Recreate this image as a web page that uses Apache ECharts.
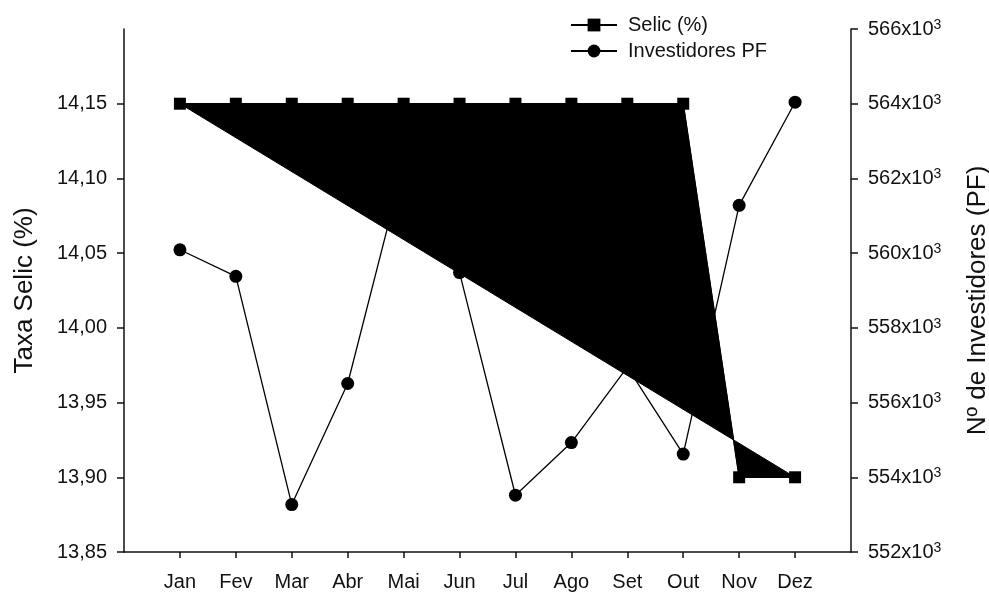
<!DOCTYPE html>
<html>
<head>
<meta charset="utf-8">
<script src="https://cdn.jsdelivr.net/npm/echarts@6/dist/echarts.min.js"></script>
<style>
  html, body { margin: 0; padding: 0; background: #fff; }
  #chart { width: 989px; height: 593px; }
</style>
</head>
<body>
<div id="chart"></div>
<script>
// meses (eixo x) e posicao de cada um no eixo
const months = ["Jan", "Fev", "Mar", "Abr", "Mai", "Jun", "Jul", "Ago", "Set", "Out", "Nov", "Dez"];
const monthPos = [1, 2, 3, 4, 5, 6, 7, 8, 9, 10, 11, 12];

// Taxa Selic (%)
const selicRate = [14.15, 14.15, 14.15, 14.15, 14.15, 14.15, 14.15, 14.15, 14.15, 14.15, 13.90, 13.90];

// Nº de investidores PF (Mai e Set estimados, ficam atras da area preta)
const investors = [560090, 559380, 553270, 556510, 562370, 559480, 553520, 554930, 556950, 554620, 561280, 564040];

// ticks do eixo esquerdo (14,20 fica sem marca)
const leftTicks = [13.85, 13.90, 13.95, 14.00, 14.05, 14.10, 14.15];

const FONT = "'Liberation Sans', Arial, sans-serif";
const INK = "#111";

const selicPoints = monthPos.map((x, i) => [x, selicRate[i]]);
const investorPoints = monthPos.map((x, i) => [x, investors[i]]);

const chart = echarts.init(document.getElementById("chart"));

const option = {
  animation: false,
  backgroundColor: "#fff",
  textStyle: { fontFamily: FONT, color: INK },
  grid: { left: 124, right: 138, top: 29, bottom: 41, containLabel: false, outerBoundsMode: "none" },
  legend: {
    orient: "vertical",
    left: 565,
    top: 10,
    itemWidth: 46,
    itemHeight: 16,
    itemGap: 6,
    data: ["Selic (%)", "Investidores PF"],
    textStyle: { fontFamily: FONT, fontSize: 20, color: INK, lineHeight: 20, padding: [0, 0, 0, 6] }
  },
  xAxis: {
    type: "value",
    min: 0,
    max: 13,
    interval: 1,
    splitLine: { show: false },
    axisLine: { lineStyle: { color: INK, width: 1.5 } },
    axisTick: { length: 6, customValues: monthPos, lineStyle: { color: INK, width: 1.5 } },
    axisLabel: {
      customValues: monthPos,
      margin: 20,
      fontSize: 20,
      fontFamily: FONT,
      color: INK,
      formatter: (v) => months[Math.round(v) - 1] || ""
    }
  },
  yAxis: [
    {
      type: "value",
      position: "left",
      min: 13.85,
      max: 14.2,
      interval: 0.05,
      name: "Taxa Selic (%)",
      nameLocation: "middle",
      nameRotate: 90,
      nameGap: 86,
      nameTextStyle: { fontSize: 26, fontFamily: FONT, color: INK },
      splitLine: { show: false },
      axisLine: { show: true, lineStyle: { color: INK, width: 1.5 } },
      axisTick: { show: true, length: 7, customValues: leftTicks, lineStyle: { color: INK, width: 1.5 } },
      axisLabel: {
        customValues: leftTicks,
        margin: 17,
        fontSize: 20,
        fontFamily: FONT,
        color: INK,
        formatter: (v) => v.toFixed(2).replace(".", ",")
      }
    },
    {
      type: "value",
      position: "right",
      min: 552000,
      max: 566000,
      interval: 2000,
      name: "Nº de Investidores (PF)",
      nameLocation: "middle",
      nameRotate: 90,
      nameGap: 114,
      nameTextStyle: { fontSize: 26, fontFamily: FONT, color: INK, padding: [0, 20, 0, 0] },
      splitLine: { show: false },
      axisLine: { show: true, lineStyle: { color: INK, width: 1.5 } },
      axisTick: { show: true, length: 7, lineStyle: { color: INK, width: 1.5 } },
      axisLabel: {
        margin: 17,
        fontSize: 20,
        fontFamily: FONT,
        color: INK,
        formatter: (v) => "{a|" + v / 1000 + "x10}{b|3}",
        rich: {
          a: { fontSize: 20, fontFamily: FONT, color: INK },
          b: { fontSize: 14, fontFamily: FONT, color: INK, padding: [0, 0, 8, 0] }
        }
      }
    }
  ],
  series: [
    {
      name: "Investidores PF",
      type: "line",
      yAxisIndex: 1,
      z: 2,
      symbol: "circle",
      symbolSize: 13,
      itemStyle: { color: "#000" },
      lineStyle: { color: "#000", width: 1.3 },
      data: investorPoints
    },
    {
      // area preta: poligono fechado dos pontos da Selic
      type: "custom",
      yAxisIndex: 0,
      z: 3,
      silent: true,
      encode: { x: 0, y: 1 },
      data: selicPoints,
      renderItem: function (params, api) {
        if (params.dataIndex !== 0) return;
        const pts = selicPoints.map((p) => api.coord(p));
        return {
          type: "polygon",
          shape: { points: pts },
          style: { fill: "#000", stroke: "#000", lineWidth: 1 }
        };
      }
    },
    {
      name: "Selic (%)",
      type: "line",
      yAxisIndex: 0,
      z: 4,
      symbol: "rect",
      symbolSize: 12,
      itemStyle: { color: "#000" },
      lineStyle: { color: "#000", width: 1.3 },
      data: selicPoints
    }
  ]
};

chart.setOption(option);
</script>
</body>
</html>
